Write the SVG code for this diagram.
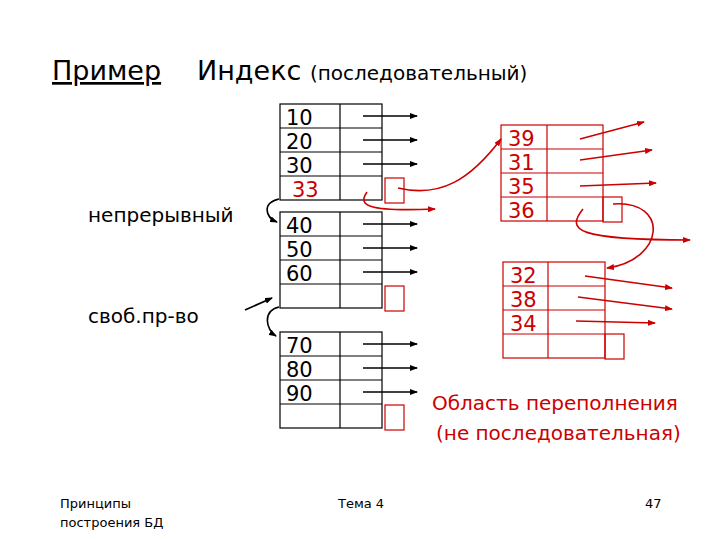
<svg xmlns="http://www.w3.org/2000/svg" width="720" height="540" viewBox="0 0 720 540">
<style>
text{font-family:"DejaVu Sans","Liberation Sans",sans-serif}
.k{fill:none;stroke:#000;stroke-width:1.2}
.r{fill:none;stroke:#c00;stroke-width:1.2}
.num{font-size:21px;fill:#000}
.rn{font-size:21px;fill:#c00}
.a{fill:none;stroke:#000;stroke-width:1.6;marker-end:url(#ka)}
.ra{fill:none;stroke:#c00;stroke-width:1.6;marker-end:url(#ra)}
</style>
<defs>
<marker id="ka" markerWidth="8" markerHeight="6" refX="7" refY="3" orient="auto" markerUnits="userSpaceOnUse"><path d="M0,0L8,3L0,6z" fill="#000"/></marker>
<marker id="ra" markerWidth="8" markerHeight="6" refX="7" refY="3" orient="auto" markerUnits="userSpaceOnUse"><path d="M0,0L8,3L0,6z" fill="#c00"/></marker>
</defs>
<rect width="720" height="540" fill="#fff"/>
<text x="52" y="80" font-size="27" text-decoration="underline">Пример</text>
<text x="197" y="80" font-size="27">Индекс <tspan font-size="20">(последовательный)</tspan></text>
<text x="88" y="222" font-size="20">непрерывный</text>
<text x="88" y="323" font-size="20">своб.пр-во</text>
<g id="block1">
<rect class="k" x="280" y="104" width="102" height="96"/>
<path class="k" d="M340,104V200M280,128H382M280,152H382M280,176H382"/>
<text class="num" x="286" y="125">10</text><text class="num" x="286" y="149">20</text><text class="num" x="286" y="173">30</text><text class="rn" x="292" y="197">33</text>
<rect class="r" x="385" y="178" width="19" height="25"/>
</g>
<g id="block2">
<rect class="k" x="280" y="212" width="102" height="96"/>
<path class="k" d="M340,212V308M280,236H382M280,260H382M280,284H382"/>
<text class="num" x="286" y="233">40</text><text class="num" x="286" y="257">50</text><text class="num" x="286" y="281">60</text>
<rect class="r" x="385" y="286" width="19" height="25"/>
</g>
<g id="block3">
<rect class="k" x="280" y="332" width="102" height="96"/>
<path class="k" d="M340,332V428M280,356H382M280,380H382M280,404H382"/>
<text class="num" x="286" y="353">70</text><text class="num" x="286" y="377">80</text><text class="num" x="286" y="401">90</text>
<rect class="r" x="385" y="405" width="19" height="25"/>
</g>
<g id="over1">
<rect class="r" x="501" y="125" width="102" height="96"/>
<path class="r" d="M547,125V221M501,149H603M501,173H603M501,197H603"/>
<text class="rn" x="508" y="146">39</text><text class="rn" x="508" y="170">31</text><text class="rn" x="508" y="194">35</text><text class="rn" x="508" y="218">36</text>
<rect class="r" x="603" y="197" width="19" height="25"/>
</g>
<g id="over2">
<rect class="r" x="503" y="262" width="102" height="96"/>
<path class="r" d="M548,262V358M503,286H605M503,310H605M503,334H605"/>
<text class="rn" x="510" y="283">32</text><text class="rn" x="510" y="307">38</text><text class="rn" x="510" y="331">34</text>
<rect class="r" x="605" y="334" width="19" height="25"/>
</g>
<text x="432" y="410" font-size="20" fill="#c00">Область переполнения</text>
<text x="436" y="440" font-size="20" fill="#c00">(не последовательная)</text>
<text x="60" y="508" font-size="13">Принципы</text>
<text x="60" y="527" font-size="13">построения БД</text>
<text x="338" y="508" font-size="13">Тема 4</text>
<text x="645" y="508" font-size="13">47</text>
<g id="connectors">
<path class="a" d="M363,116H417"/><path class="a" d="M363,140H417"/><path class="a" d="M363,164H417"/>
<path class="a" d="M363,224H417"/><path class="a" d="M363,248H417"/><path class="a" d="M363,272H417"/>
<path class="a" d="M363,344H417"/><path class="a" d="M363,368H417"/><path class="a" d="M363,392H417"/>
<path class="a" d="M279,199C262,203 265,217 277,222"/>
<path class="a" d="M279,307C262,311 266,330 276,336"/>
<path class="a" d="M245,310L272,298"/>
<path class="ra" d="M398,188C440,198 470,180 501,139"/>
<path class="ra" d="M367,192C358,205 365,212 435,209"/>
<path class="ra" d="M580,139L644,122"/>
<path class="ra" d="M580,160L652,150"/>
<path class="ra" d="M580,186L656,183"/>
<path class="ra" d="M583,209C566,230 575,240 690,240"/>
<path class="ra" d="M613,204C670,200 665,260 607,268"/>
<path class="ra" d="M585,276L672,288"/>
<path class="ra" d="M578,297L672,309"/>
<path class="ra" d="M576,321L655,323"/>
</g>
</svg>
